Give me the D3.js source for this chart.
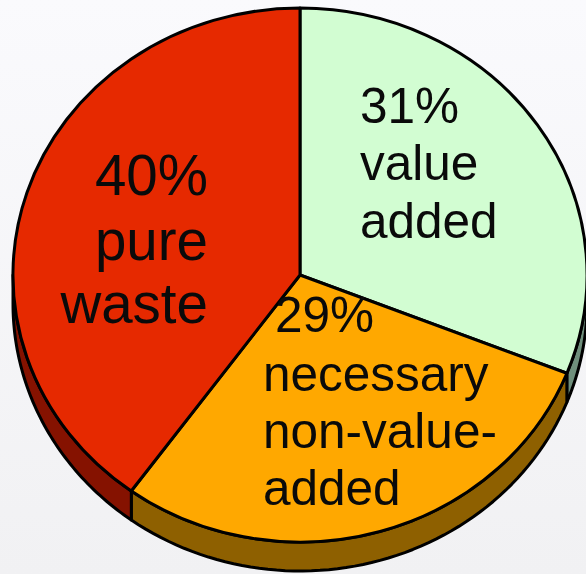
<!DOCTYPE html>
<html><head><meta charset="utf-8">
<script src="https://cdn.jsdelivr.net/npm/d3@7/dist/d3.min.js"></script>
<style>html,body{margin:0;padding:0;overflow:hidden;background:#f5f5f7}svg{display:block}text{font-family:"Liberation Sans",Arial,sans-serif;fill:#0a0a0a}</style>
</head><body><svg id="c" width="586" height="574"></svg>
<script>
const categories = ["value added", "necessary non-value-added", "pure waste"];
const values = [31, 29, 40];
const topColors = ["#d2fdd2", "#ffa800", "#e62900"];
const sideColors = ["#6f8f7c", "#8e6000", "#851200"];
const labelLines = [["31%", "value", "added"], ["29%", "necessary", "non-value-", "added"], ["40%", "pure", "waste"]];
const labelBaselines = [[123, 180, 238], [332, 391, 448, 505], [195, 260, 323]];
const labelX = [[360, 360, 360], [275, 263, 263, 263], [208, 208, 208]];
const labelAnchor = ["start", "start", "end"];
const labelSize = [49.5, 49.5, 56.5];

const W = 586, H = 574, cx = 300, cy = 275, rx = 287, ry = 267, depth = 29;
const svg = d3.select("#c");
const defs = svg.append("defs");
const g = defs.append("linearGradient").attr("id", "bg").attr("x1", 0).attr("x2", 0).attr("y1", 0).attr("y2", 1);
g.append("stop").attr("offset", 0).attr("stop-color", "#fafafd");
g.append("stop").attr("offset", 1).attr("stop-color", "#f1f1f3");
svg.append("rect").attr("width", W).attr("height", H).attr("fill", "url(#bg)");

const slices = d3.pie().sort(null).value(d => d)(values);
const px = d3.scaleLinear().domain([-1, 1]).range([cx - rx, cx + rx]);
const py = d3.scaleLinear().domain([-1, 1]).range([cy - ry, cy + ry]);
const lw = 3;

const root = svg.append("g");
slices.forEach((s, i) => {
  const a0 = Math.max(s.startAngle, Math.PI / 2), a1 = Math.min(s.endAngle, 3 * Math.PI / 2);
  if (a1 <= a0) return;
  const steps = d3.range(0, 61).map(k => a0 + (a1 - a0) * k / 60);
  const area = d3.area()
    .x(a => px(Math.sin(a)))
    .y0(a => py(-Math.cos(a)))
    .y1(a => py(-Math.cos(a)) + depth);
  root.append("path").attr("d", area(steps)).attr("fill", sideColors[i]).attr("stroke", "#000").attr("stroke-width", lw).attr("stroke-linejoin", "round");
});
const arc = d3.arc().innerRadius(0).outerRadius(1);
const face = root.append("g").attr("transform", `translate(${cx},${cy}) scale(${rx},${ry})`);
face.selectAll("path").data(slices).join("path")
  .attr("d", arc)
  .attr("fill", (d, i) => topColors[i])
  .attr("stroke", "#000").attr("stroke-width", lw)
  .attr("stroke-linejoin", "round")
  .attr("vector-effect", "non-scaling-stroke");
labelLines.forEach((lines, i) => {
  lines.forEach((t, j) => {
    svg.append("text").attr("x", labelX[i][j]).attr("y", labelBaselines[i][j])
      .attr("text-anchor", labelAnchor[i]).attr("font-size", labelSize[i]).text(t);
  });
});
</script></body></html>
